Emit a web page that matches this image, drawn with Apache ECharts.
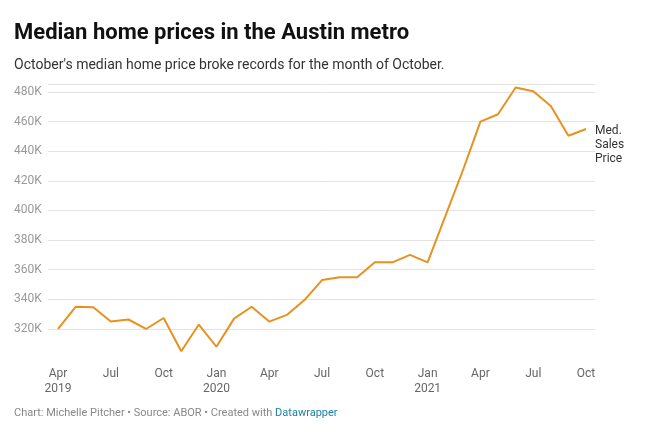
<!DOCTYPE html>
<html>
<head>
<meta charset="utf-8">
<script src="https://cdn.jsdelivr.net/npm/echarts@6/dist/echarts.min.js"></script>
<style>
	html, body { margin: 0; padding: 0; background: #fff; }
	#main { width: 652px; height: 441px; }
</style>
</head>
<body>
<div id="main"></div>
<script>
// monthly data, Apr 2019 .. Oct 2021 (in thousands of dollars)
var months = [
	'Apr 2019', 'May 2019', 'Jun 2019', 'Jul 2019', 'Aug 2019', 'Sep 2019', 'Oct 2019', 'Nov 2019', 'Dec 2019',
	'Jan 2020', 'Feb 2020', 'Mar 2020', 'Apr 2020', 'May 2020', 'Jun 2020', 'Jul 2020', 'Aug 2020', 'Sep 2020',
	'Oct 2020', 'Nov 2020', 'Dec 2020',
	'Jan 2021', 'Feb 2021', 'Mar 2021', 'Apr 2021', 'May 2021', 'Jun 2021', 'Jul 2021', 'Aug 2021', 'Sep 2021',
	'Oct 2021'
];
var prices = [
	320, 335, 334.7, 325, 326.4, 320, 327.4, 305, 323,
	308, 327, 335, 325, 329.5, 339.5, 353, 355, 355,
	365, 365, 370,
	365, 396, 427, 460, 465, 483, 480.5, 470.5, 450.5,
	455
];
// x tick labels, every 3 months
var tickIndex = [0, 3, 6, 9, 12, 15, 18, 21, 24, 27, 30];
var tickLabels = ['Apr\n2019', 'Jul', 'Oct', 'Jan\n2020', 'Apr', 'Jul', 'Oct', 'Jan\n2021', 'Apr', 'Jul', 'Oct'];
var seriesName = 'Med.\nSales\nPrice';

var points = [];
for (var i = 0; i < prices.length; i++) {
	points.push({ name: months[i], value: [i, prices[i]] });
}

var myChart = echarts.init(document.getElementById('main'));
var option = {
	animation: false,
	textStyle: { fontFamily: 'Roboto' },
	title: [{
		text: 'Median home prices in the Austin metro',
		left: 14,
		top: 22,
		padding: 0,
		textStyle: { fontFamily: 'Roboto', fontSize: 22, fontWeight: 'bold', color: '#111' }
	}, {
		text: "October's median home price broke records for the month of October.",
		left: 14,
		top: 58,
		padding: 0,
		textStyle: { fontFamily: 'Roboto', fontSize: 14, fontWeight: 'normal', color: '#333' }
	}, {
		text: '{a|Chart: Michelle Pitcher • Source: ABOR • Created with }{b|Datawrapper}',
		left: 14,
		top: 408,
		padding: 0,
		textStyle: {
			fontWeight: 'normal',
			rich: {
				a: { fontFamily: 'Roboto', fontSize: 11, fontWeight: 'normal', color: '#888' },
				b: { fontFamily: 'Roboto', fontSize: 11, fontWeight: 'normal', color: '#1d81a2' }
			}
		}
	}],
	grid: { left: 48, right: 57, top: 84.6, bottom: 82.4 },
	xAxis: {
		type: 'value',
		min: -0.57,
		max: 30.51,
		axisLine: { show: false },
		axisTick: { show: false },
		splitLine: { show: false },
		axisLabel: {
			customValues: tickIndex,
			margin: 8,
			color: '#666',
			fontSize: 12,
			lineHeight: 15,
			formatter: function (v) {
				var k = tickIndex.indexOf(Math.round(v));
				return k >= 0 ? tickLabels[k] : '';
			}
		}
	},
	yAxis: {
		type: 'value',
		min: 300,
		max: 485,
		interval: 20,
		axisLine: { show: false },
		axisTick: { show: false },
		splitLine: { showMinLine: false, lineStyle: { color: '#e3e3e3', width: 1 } },
		axisLabel: {
			showMinLabel: false,
			align: 'left',
			margin: 34,
			color: '#999',
			fontSize: 12,
			formatter: function (v) { return v + 'K'; }
		}
	},
	series: [{
		name: seriesName,
		type: 'line',
		data: points,
		showSymbol: false,
		lineStyle: { color: '#e8911f', width: 2 },
		itemStyle: { color: '#e8911f' },
		endLabel: {
			show: true,
			formatter: seriesName,
			distance: 9,
			offset: [0, 16],
			color: '#333',
			fontSize: 12,
			lineHeight: 14,
			align: 'left'
		}
	}]
};
myChart.setOption(option);
</script>
</body>
</html>
